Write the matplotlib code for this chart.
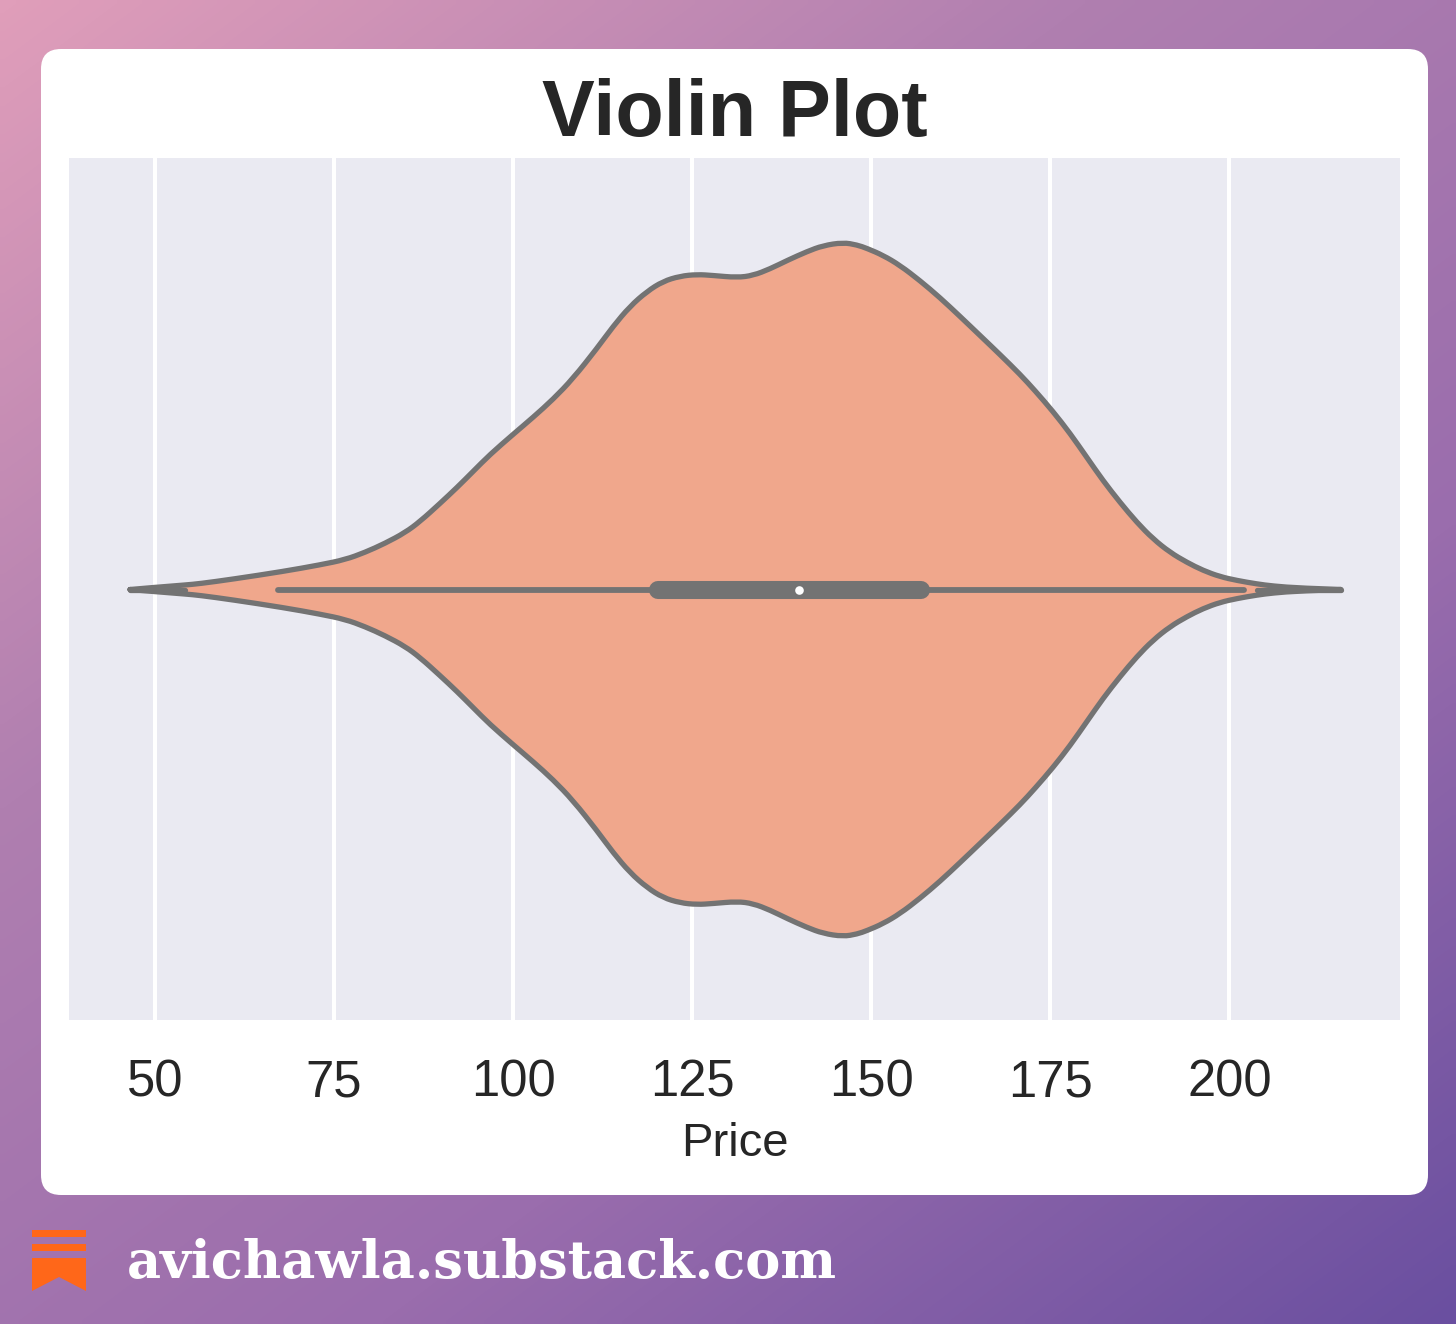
import numpy as np
import matplotlib
matplotlib.use("Agg")
import matplotlib.pyplot as plt
from matplotlib.colors import LinearSegmentedColormap
from matplotlib.patches import FancyBboxPatch, PathPatch, Rectangle, Polygon
from matplotlib.path import Path

# ---- data ----
price = [46.51, 49.86, 54.19, 56.28, 60.89, 67.87, 73.04, 76.53, 79.32, 82.11, 84.91, 87.0,
         89.79, 92.17, 94.4, 96.77, 99.99, 102.78, 105.57, 108.36, 111.71, 113.95, 116.32,
         118.7, 120.93, 123.3, 125.68, 127.91, 131.26, 133.5, 135.87, 138.24, 141.04, 143.27,
         146.06, 148.02, 149.41, 151.65, 154.02, 156.81, 159.6, 162.4, 165.19, 167.98,
         170.78, 172.87, 175.38, 177.76, 180.13, 182.36, 184.74, 187.11, 189.35, 191.72,
         194.09, 196.33, 198.7, 201.07, 203.86, 206.1, 209.87, 215.6]
density = [0, .006, .013, .017, .03, .052, .071, .086, .107, .133, .164, .196,
           .248, .294, .34, .389, .447, .496, .548, .608, .695, .758, .816,
           .859, .888, .903, .908, .905, .899, .905, .924, .948, .974, .991,
           1.0, .993, .983, .963, .934, .89, .841, .787, .732, .677,
           .62, .573, .513, .45, .38, .314, .251, .193, .146, .107,
           .078, .055, .037, .026, .016, .01, .004, 0]
whisker_low, whisker_high = 67.2, 202.1
q1, q3 = 119.6, 157.5
median = 139.9
tick_values = [50, 75, 100, 125, 150, 175, 200]
title_text = "Violin Plot"
xlabel_text = "Price"
footer_text = "avichawla.substack.com"

W, H = 1456, 1324
FONT = "Liberation Sans"
TEXT = "#262626"
GREY = "#737373"
plt.rcParams["font.family"] = [FONT, "DejaVu Sans"]

fig = plt.figure(figsize=(W / 100, H / 100), dpi=100)

# ---- page background, card and footer, in pixel coordinates ----
bg = fig.add_axes([0, 0, 1, 1], zorder=0)
bg.set_xlim(0, W)
bg.set_ylim(H, 0)
bg.axis("off")
yy, xx = np.mgrid[0:1:200j, 0:1:200j]
cmap = LinearSegmentedColormap.from_list(
    "page", ["#E09EBA", "#B07FB0", "#9A6DAD", "#6A4FA0"])
bg.imshow(0.45 * xx + 0.55 * yy, cmap=cmap, extent=(0, W, H, 0), aspect="auto",
          interpolation="bilinear", vmin=0, vmax=1)
bg.add_patch(FancyBboxPatch((41 + 20, 49 + 20), 1387 - 40, 1146 - 40,
                            boxstyle="round,pad=20,rounding_size=20",
                            fc="white", ec="none"))
ORANGE = "#FF6719"
bg.add_patch(Rectangle((32, 1230), 54, 7, fc=ORANGE, ec="none"))
bg.add_patch(Rectangle((32, 1244), 54, 7, fc=ORANGE, ec="none"))
bg.add_patch(Polygon([(32, 1258), (86, 1258), (86, 1291), (59, 1277), (32, 1291)],
                     closed=True, fc=ORANGE, ec="none"))
bg.text(127, 1278, footer_text, color="white", fontsize=38, fontweight="bold",
        family=["DejaVu Serif"], ha="left", va="baseline")

# ---- chart axes ----
L, R, T, B = 69, 1400, 158, 1020
ax = fig.add_axes([L / W, 1 - B / H, (R - L) / W, (B - T) / H], zorder=1)
ax.set_facecolor("#EAEAF2")
for s in ax.spines.values():
    s.set_visible(False)
ax.set_xlim(37.99, 223.83)
ax.set_ylim(-1.2406, 1.2435)
ax.set_xticks(tick_values)
ax.set_yticks([])
ax.grid(axis="x", color="white", lw=2.9)
ax.set_axisbelow(True)
ax.tick_params(axis="x", length=0, pad=27.5, labelsize=36.5, labelcolor=TEXT)


def violin_path(xs, hs):
    """Closed outline through the read points, rounded with quadratic curves."""
    xs = np.asarray(xs, float)
    hs = np.asarray(hs, float)
    verts, codes = [(xs[0], 0.0)], [Path.MOVETO]
    for sign, order in ((1, range(1, len(xs))), (-1, range(len(xs) - 2, -1, -1))):
        idx = list(order)
        for a, b in zip(idx[:-1], idx[1:]):
            p = np.array([xs[a], sign * hs[a]])
            q = np.array([xs[b], sign * hs[b]])
            end = q if b == idx[-1] else (p + q) / 2
            verts += [p, end]
            codes += [Path.CURVE3, Path.CURVE3]
    return Path(verts, codes)


LW = 3.8
ax.add_patch(PathPatch(violin_path(price, density), fc="#F0A78C", ec=GREY, lw=LW,
                       joinstyle="round", capstyle="round", zorder=2))
# the two outlines merge into one thick stroke at each tail
ax.plot([price[0], price[2]], [0, 0], color=GREY, lw=LW, solid_capstyle="round", zorder=2)
ax.plot([price[-4], price[-1]], [0, 0], color=GREY, lw=LW, solid_capstyle="round", zorder=2)
ax.plot([whisker_low, whisker_high], [0, 0], color=GREY, lw=4.2,
        solid_capstyle="round", zorder=3)
ax.plot([q1 + 0.6, q3 - 0.6], [0, 0], color=GREY, lw=13,
        solid_capstyle="round", zorder=4)
ax.plot([median], [0], "o", color="white", ms=6.2, mew=0, zorder=5)

ax.set_title(title_text, fontsize=57, fontweight="bold", color=TEXT, pad=16)
ax.set_xlabel(xlabel_text, fontsize=34, color=TEXT, labelpad=11)

fig.savefig("out.png", dpi=100)
